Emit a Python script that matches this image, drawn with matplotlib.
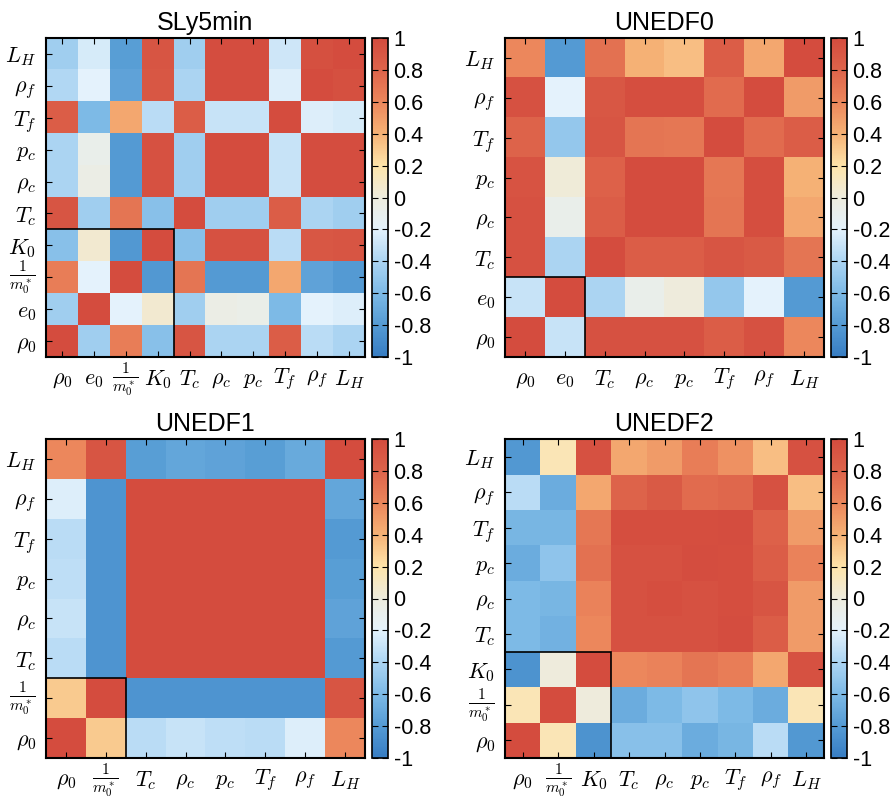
import numpy as np
import matplotlib
matplotlib.use("Agg")
import matplotlib.pyplot as plt
from matplotlib.colors import LinearSegmentedColormap
from matplotlib.patches import Rectangle

plt.rcParams["font.family"] = ["Liberation Sans", "DejaVu Sans"]
plt.rcParams["mathtext.fontset"] = "cm"

# etiquetas de parametros
lab = {
    "rho0": r"$\rho_0$", "e0": r"$e_0$", "m": r"$\frac{1}{m_0^*}$", "K0": r"$K_0$",
    "Tc": r"$T_c$", "rhoc": r"$\rho_c$", "pc": r"$p_c$", "Tf": r"$T_f$",
    "rhof": r"$\rho_f$", "LH": r"$L_H$",
}

# -------------------------
# SLy5min
# -------------------------
sly_vars = ["rho0", "e0", "m", "K0", "Tc", "rhoc", "pc", "Tf", "rhof", "LH"]
sly_corr = [
    [1.00, -0.45, 0.65, -0.55, 0.92, -0.40, -0.40, 0.85, -0.35, -0.40],
    [-0.45, 1.00, -0.20, 0.05, -0.45, -0.05, -0.07, -0.60, -0.20, -0.22],
    [0.65, -0.20, 1.00, -0.82, 0.70, -0.80, -0.80, 0.45, -0.75, -0.80],
    [-0.55, 0.05, -0.82, 1.00, -0.55, 0.95, 0.95, -0.35, 0.90, 0.92],
    [0.92, -0.45, 0.70, -0.55, 1.00, -0.45, -0.45, 0.85, -0.40, -0.45],
    [-0.40, -0.05, -0.80, 0.95, -0.45, 1.00, 1.00, -0.30, 0.98, 0.98],
    [-0.40, -0.08, -0.80, 0.95, -0.45, 1.00, 1.00, -0.30, 0.98, 0.98],
    [0.85, -0.60, 0.45, -0.35, 0.85, -0.30, -0.30, 1.00, -0.22, -0.25],
    [-0.38, -0.20, -0.75, 0.90, -0.40, 0.98, 0.98, -0.22, 1.00, 0.96],
    [-0.45, -0.25, -0.78, 0.92, -0.45, 0.98, 0.98, -0.28, 0.96, 1.00],
]

# -------------------------
# UNEDF0
# -------------------------
un0_vars = ["rho0", "e0", "Tc", "rhoc", "pc", "Tf", "rhof", "LH"]
un0_corr = [
    [1.00, -0.30, 0.95, 0.95, 0.95, 0.85, 0.95, 0.60],
    [-0.30, 1.00, -0.40, -0.08, 0.00, -0.50, -0.20, -0.80],
    [0.95, -0.40, 1.00, 0.85, 0.85, 0.92, 0.88, 0.70],
    [0.95, -0.08, 0.85, 1.00, 1.00, 0.70, 0.97, 0.45],
    [0.93, 0.02, 0.82, 1.00, 1.00, 0.68, 0.97, 0.40],
    [0.80, -0.50, 0.92, 0.70, 0.68, 1.00, 0.75, 0.85],
    [0.95, -0.20, 0.90, 0.97, 0.97, 0.75, 1.00, 0.50],
    [0.60, -0.80, 0.72, 0.40, 0.35, 0.85, 0.45, 1.00],
]

# -------------------------
# UNEDF1
# -------------------------
un1_vars = ["rho0", "m", "Tc", "rhoc", "pc", "Tf", "rhof", "LH"]
un1_corr = [
    [1.00, 0.30, -0.35, -0.30, -0.33, -0.35, -0.22, 0.60],
    [0.30, 1.00, -0.84, -0.84, -0.84, -0.84, -0.84, 0.92],
    [-0.35, -0.84, 1.00, 1.00, 1.00, 1.00, 1.00, -0.80],
    [-0.30, -0.84, 1.00, 1.00, 1.00, 1.00, 1.00, -0.75],
    [-0.33, -0.84, 1.00, 1.00, 1.00, 1.00, 1.00, -0.78],
    [-0.35, -0.84, 1.00, 1.00, 1.00, 1.00, 1.00, -0.80],
    [-0.22, -0.84, 1.00, 1.00, 1.00, 1.00, 1.00, -0.72],
    [0.60, 0.92, -0.78, -0.72, -0.75, -0.78, -0.70, 1.00],
]

# -------------------------
# UNEDF2
# -------------------------
un2_vars = ["rho0", "m", "K0", "Tc", "rhoc", "pc", "Tf", "rhof", "LH"]
un2_corr = [
    [1.00, 0.15, -0.85, -0.55, -0.55, -0.68, -0.62, -0.35, -0.82],
    [0.15, 1.00, 0.00, -0.68, -0.60, -0.52, -0.60, -0.68, 0.15],
    [-0.85, 0.00, 1.00, 0.60, 0.62, 0.70, 0.65, 0.45, 0.95],
    [-0.60, -0.65, 0.60, 0.95, 0.95, 0.95, 0.98, 0.85, 0.50],
    [-0.60, -0.62, 0.62, 0.95, 0.97, 0.95, 0.97, 0.92, 0.50],
    [-0.68, -0.52, 0.72, 0.95, 0.95, 0.98, 0.97, 0.85, 0.62],
    [-0.62, -0.62, 0.68, 0.97, 0.97, 0.97, 0.98, 0.82, 0.50],
    [-0.35, -0.68, 0.45, 0.80, 0.88, 0.75, 0.78, 0.95, 0.35],
    [-0.82, 0.15, 0.95, 0.45, 0.50, 0.65, 0.55, 0.35, 0.95],
]

paneles = [
    ("SLy5min", sly_vars, sly_corr, 4),
    ("UNEDF0", un0_vars, un0_corr, 2),
    ("UNEDF1", un1_vars, un1_corr, 2),
    ("UNEDF2", un2_vars, un2_corr, 3),
]

# mapa de color tipo matlab (azul - crema - rojo)
cmap = LinearSegmentedColormap.from_list("corr", [
    (0.00, (55/255, 125/255, 195/255)),
    (0.10, (85/255, 155/255, 212/255)),
    (0.20, (125/255, 186/255, 230/255)),
    (0.30, (172/255, 213/255, 243/255)),
    (0.40, (228/255, 242/255, 252/255)),
    (0.50, (238/255, 236/255, 222/255)),
    (0.60, (254/255, 228/255, 170/255)),
    (0.70, (246/255, 178/255, 118/255)),
    (0.80, (236/255, 135/255, 92/255)),
    (0.90, (222/255, 100/255, 75/255)),
    (1.00, (212/255, 76/255, 62/255)),
])

W, H = 892, 798
fig = plt.figure(figsize=(W / 100, H / 100), dpi=100)

# posiciones en pixeles: (izq, der, arriba, abajo)
cajas = [
    (46, 365, 38, 357),
    (505, 824, 38, 357),
    (46, 365, 439, 758),
    (505, 824, 439, 758),
]
cb_off = (7, 23)

for (titulo, vars_, corr, nb), (x0, x1, y0, y1) in zip(paneles, cajas):
    ax = fig.add_axes([x0 / W, 1 - y1 / H, (x1 - x0) / W, (y1 - y0) / H])
    data = np.array(corr)
    n = len(vars_)
    im = ax.imshow(data, cmap=cmap, vmin=-1, vmax=1, origin="lower",
                   aspect="auto", interpolation="nearest")
    ax.set_xticks(range(n))
    ax.set_yticks(range(n))
    ax.set_xticklabels([lab[v] for v in vars_], fontsize=16)
    ax.set_yticklabels([lab[v] for v in vars_], fontsize=16)
    # etiquetas centradas verticalmente (la fraccion es mas alta)
    for t in ax.get_xticklabels():
        t.set_va("center")
    for t in ax.get_yticklabels():
        if "frac" in t.get_text():
            t.set_va("center")
    ax.tick_params(direction="in", length=4, width=0.8, top=True, right=True)
    ax.tick_params(axis="x", pad=16)
    ax.tick_params(axis="y", pad=7)
    for s in ax.spines.values():
        s.set_linewidth(1.5)
    ax.add_patch(Rectangle((-0.5, -0.5), nb, nb, fill=False, edgecolor="k", lw=1.2))
    ax.set_title(titulo, fontsize=18, pad=6)

    cax = fig.add_axes([(x1 + cb_off[0]) / W, 1 - y1 / H,
                        (cb_off[1] - cb_off[0]) / W, (y1 - y0) / H])
    cb = fig.colorbar(im, cax=cax)
    cb.set_ticks(np.arange(-1, 1.01, 0.2))
    cb.set_ticklabels(["-1", "-0.8", "-0.6", "-0.4", "-0.2", "0",
                       "0.2", "0.4", "0.6", "0.8", "1"])
    cax.tick_params(direction="in", length=4, width=0.8, left=True, right=True,
                    labelsize=15.5, pad=4)
    cb.outline.set_linewidth(1.2)

plt.savefig("out.png", dpi=100)
